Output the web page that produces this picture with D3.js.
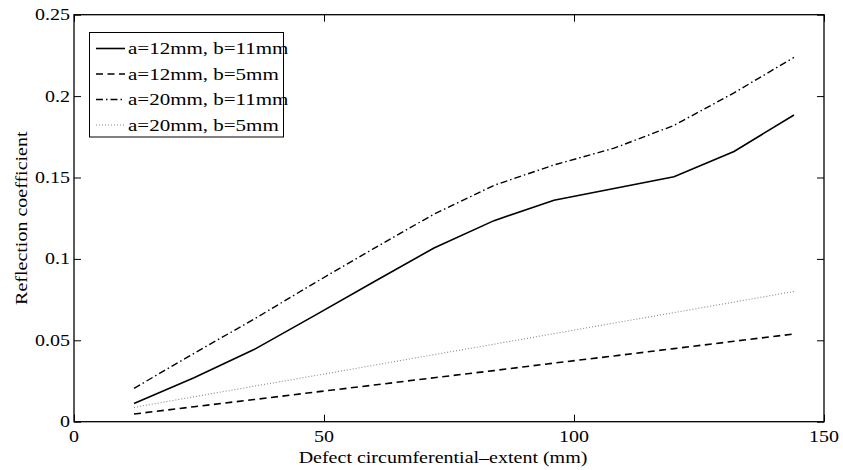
<!DOCTYPE html>
<html>
<head>
<meta charset="utf-8">
<script src="https://cdn.jsdelivr.net/npm/d3@7"></script>
<style>
  body { margin: 0; background: #fff; }
  text { font-family: "Liberation Serif", "Times New Roman", serif; font-size: 16px; fill: #000; }
  .item text { font-size: 16.8px; }
</style>
</head>
<body>
<svg width="843" height="470"></svg>
<script>
  // circumferential extent (mm)
  const extent = [12, 24, 36, 48, 60, 72, 84, 96, 108, 120, 132, 144];

  // reflection coefficients, one array per defect case
  const a12b11 = [0.0112, 0.0270, 0.0443, 0.0650, 0.0860, 0.1067, 0.1235, 0.1360, 0.1432, 0.1505, 0.1660, 0.1884];
  const a12b5 = [0.0047, 0.0092, 0.0136, 0.0181, 0.0225, 0.0270, 0.0314, 0.0360, 0.0404, 0.0449, 0.0494, 0.0539];
  const a20b11 = [0.0205, 0.0420, 0.0630, 0.0850, 0.1065, 0.1275, 0.1452, 0.1577, 0.1680, 0.1820, 0.2020, 0.2238];
  const a20b5 = [0.0088, 0.0153, 0.0218, 0.0282, 0.0347, 0.0412, 0.0476, 0.0541, 0.0606, 0.0670, 0.0735, 0.0800];

  const seriesNames = ['a=12mm, b=11mm', 'a=12mm, b=5mm', 'a=20mm, b=11mm', 'a=20mm, b=5mm'];
  const xTicks = [0, 50, 100, 150];
  const xTickLabels = ['0', '50', '100', '150'];
  const yTicks = [0, 0.05, 0.1, 0.15, 0.2, 0.25];
  const yTickLabels = ['0', '0.05', '0.1', '0.15', '0.2', '0.25'];

  const series = [
    { name: seriesNames[0], values: a12b11, color: '#000', width: 1.6, dash: null },
    { name: seriesNames[1], values: a12b5, color: '#000', width: 1.6, dash: '7,4.5' },
    { name: seriesNames[2], values: a20b11, color: '#000', width: 1.4, dash: '7,3,1.5,3' },
    { name: seriesNames[3], values: a20b5, color: '#888', width: 1.1, dash: '1,2' }
  ];

  const svg = d3.select('svg');
  const margin = { left: 74, right: 19, top: 14.7, bottom: 48.3 };
  const W = +svg.attr('width'), H = +svg.attr('height');

  const x = d3.scaleLinear().domain([0, 150]).range([margin.left, W - margin.right]);
  const y = d3.scaleLinear().domain([0, 0.25]).range([H - margin.bottom, margin.top]);

  // the original's glyphs are wide for their height: stretch along the text direction
  const stretch = 1.25;
  const label = (sel, px, py, txt, anchor, rot = 0, dy = null) =>
    sel.append('text')
      .attr('transform', `translate(${px},${py}) rotate(${rot}) scale(${stretch},1)`)
      .attr('text-anchor', anchor)
      .attr('dy', dy)
      .text(txt);

  // box
  svg.append('rect')
    .attr('x', x(0)).attr('y', y(0.25))
    .attr('width', x(150) - x(0)).attr('height', y(0) - y(0.25))
    .attr('fill', 'none').attr('stroke', '#000').attr('stroke-width', 1.3);

  // inward ticks on all four sides
  const tickLen = 7;
  const noLabel = g => g.call(g => g.select('.domain').remove()).call(g => g.selectAll('text').remove());
  svg.append('g').attr('transform', `translate(0,${y(0)})`)
    .call(d3.axisBottom(x).tickValues(xTicks).tickSize(-tickLen)).call(noLabel);
  svg.append('g').attr('transform', `translate(0,${y(0.25)})`)
    .call(d3.axisTop(x).tickValues(xTicks).tickSize(-tickLen)).call(noLabel);
  svg.append('g').attr('transform', `translate(${x(0)},0)`)
    .call(d3.axisLeft(y).tickValues(yTicks).tickSize(-tickLen)).call(noLabel);
  svg.append('g').attr('transform', `translate(${x(150)},0)`)
    .call(d3.axisRight(y).tickValues(yTicks).tickSize(-tickLen)).call(noLabel);
  svg.selectAll('.tick line').attr('stroke', '#000').attr('stroke-width', 1);

  // tick labels
  const tickLabels = svg.append('g');
  xTicks.forEach((t, i) => label(tickLabels, x(t), 442, xTickLabels[i], 'middle'));
  yTicks.forEach((t, i) => label(tickLabels, 70, y(t), yTickLabels[i], 'end', 0, '0.34em'));

  // axis titles
  label(svg, 443, 463, 'Defect circumferential\u2013extent (mm)', 'middle');
  label(svg, 27, (y(0) + y(0.25)) / 2, 'Reflection coefficient', 'middle', -90);

  // lines
  const line = d3.line()
    .x((d, i) => x(extent[i]))
    .y(d => y(d));

  svg.append('g').selectAll('path').data(series).enter()
    .append('path')
    .attr('d', d => line(d.values))
    .attr('fill', 'none')
    .attr('stroke', d => d.color)
    .attr('stroke-width', d => d.width)
    .attr('stroke-dasharray', d => d.dash);

  // legend
  const legendG = svg.append('g');
  legendG.append('rect')
    .attr('x', 89.5).attr('y', 32.5).attr('width', 194).attr('height', 104.5)
    .attr('fill', '#fff').attr('stroke', '#000').attr('stroke-width', 1);

  const items = legendG.selectAll('.item').data(series).enter()
    .append('g').attr('class', 'item')
    .attr('transform', (d, i) => `translate(0,${48.5 + i * 25.5})`);
  items.append('line')
    .attr('x1', 96).attr('x2', 125).attr('y1', 0).attr('y2', 0)
    .attr('stroke', d => d.color)
    .attr('stroke-width', d => d.width)
    .attr('stroke-dasharray', d => d.dash);
  items.each(function (d) {
    label(d3.select(this), 128, 0, d.name, 'start', 0, '0.33em');
  });
</script>
</body>
</html>
